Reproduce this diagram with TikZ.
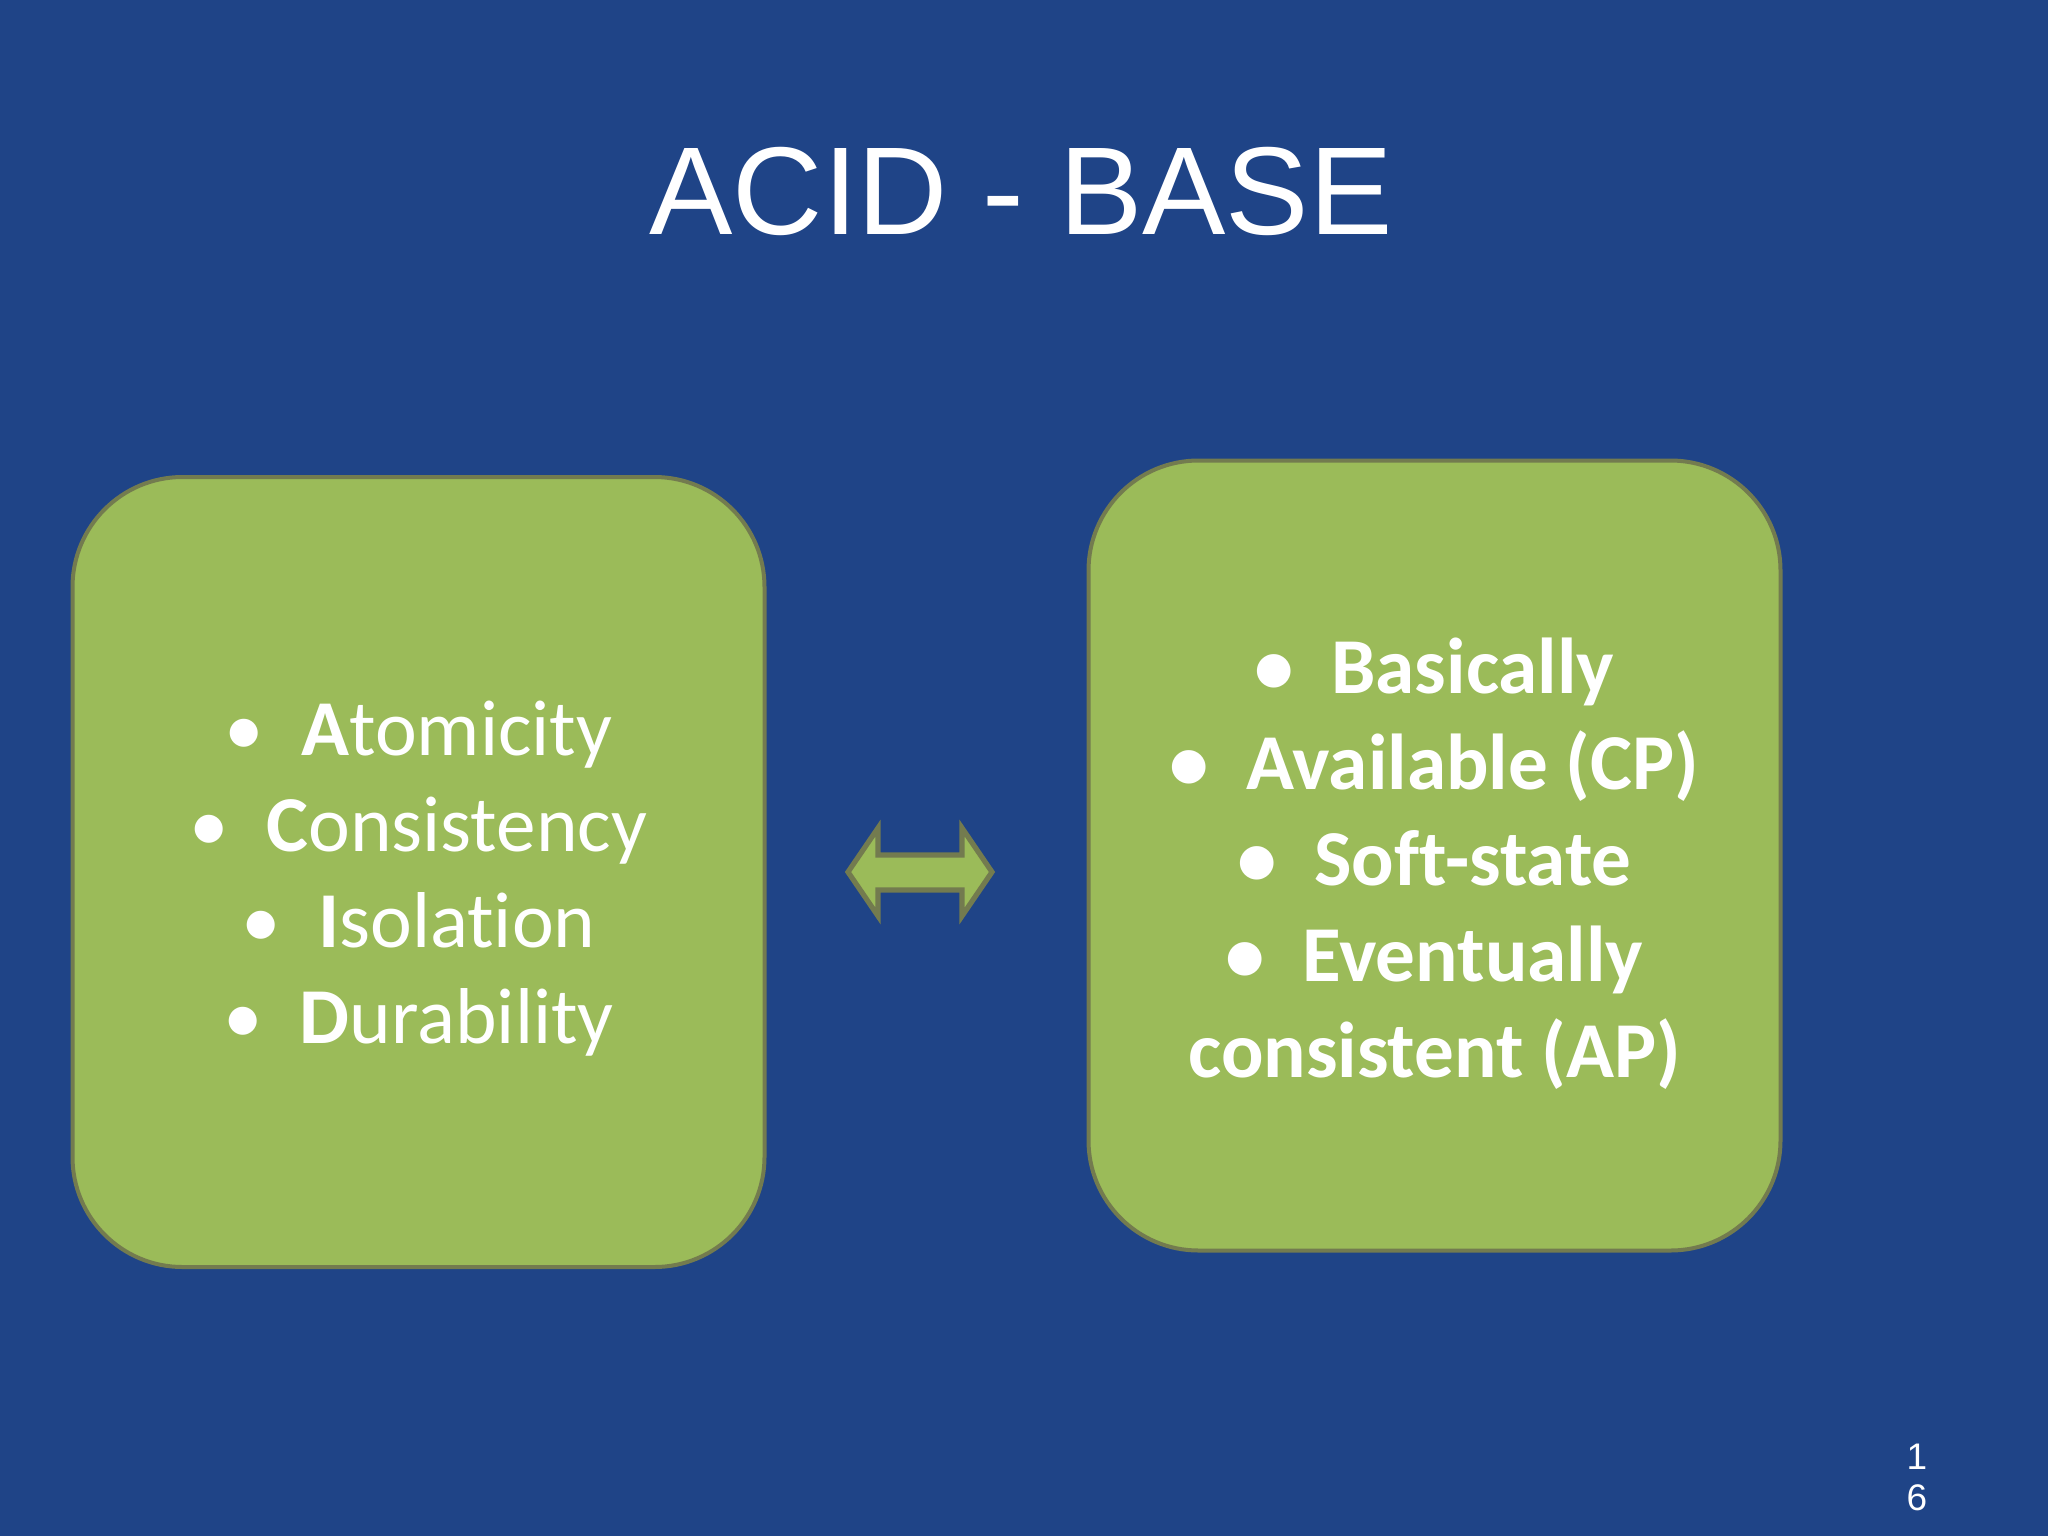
\documentclass[tikz,border=0pt]{standalone}
\usepackage{fontspec}
\setmainfont{Carlito}[Ligatures=NoCommon]
\newfontfamily\headfont{Liberation Sans}
\usetikzlibrary{positioning}
\definecolor{slate}{HTML}{1F4487}
\definecolor{leaf}{HTML}{9BBB59}
\definecolor{olive}{HTML}{737B4F}
\tikzset{
  card/.style={
    draw=olive, line width=2pt, fill=leaf, rounded corners=55pt,
    minimum width=346pt, minimum height=395pt, inner sep=0pt,
  },
  cardtext/.style={align=center, text=white, inner sep=0pt,
                   font=\fontsize{39.6}{48}\selectfont},
  swapbox/.style={draw=olive, line width=2.6pt, fill=leaf, line join=miter},
  heading/.style={text=white, inner sep=0pt, font=\headfont\fontsize{62.5}{70}\selectfont},
  pageno/.style={text=white, inner sep=0pt, align=center,
                 font=\headfont\fontsize{18.5}{20.5}\selectfont},
}
\newcommand\bul[1]{\textbullet\hspace{0.47em}#1}

\begin{document}
\begin{tikzpicture}[x=0.5pt, y=-0.5pt]

  \fill[slate] (0,0) rectangle (2048,1536);
  \useasboundingbox (0,0) rectangle (2048,1536);

  \node[heading] (title) at (1021,191) {ACID - BASE};

  \node[card] (acid) at (418.5,872) {};
  \node[cardtext, below=0pt of acid.center, anchor=center, yshift=-3.5pt] (acidtxt)
    {\bul{\textbf{A}tomicity}\\ \bul{\textbf{C}onsistency}\\
     \bul{\textbf{I}solation}\\ \bul{\textbf{D}urability}};

  \node[card] (base) at (1434.5,855.5) {};
  \node[cardtext, font=\bfseries\fontsize{39.6}{48}\selectfont,
        below=0pt of base.center, anchor=center, yshift=-4pt] (basetxt)
    {\bul{Basically}\\ \bul{Available (CP)}\\ \bul{Soft-state}\\
     \bul{Eventually}\\ consistent (AP)};

  % two-way arrow between the cards
  \draw[swapbox] (848,872) -- (878,828) -- (878,855) -- (962,855) -- (962,828)
    -- (992,872) -- (962,916) -- (962,890) -- (878,890) -- (878,916) -- cycle;

  \node[pageno] (page) at (1917,1477) {1\\6};

\end{tikzpicture}
\end{document}
